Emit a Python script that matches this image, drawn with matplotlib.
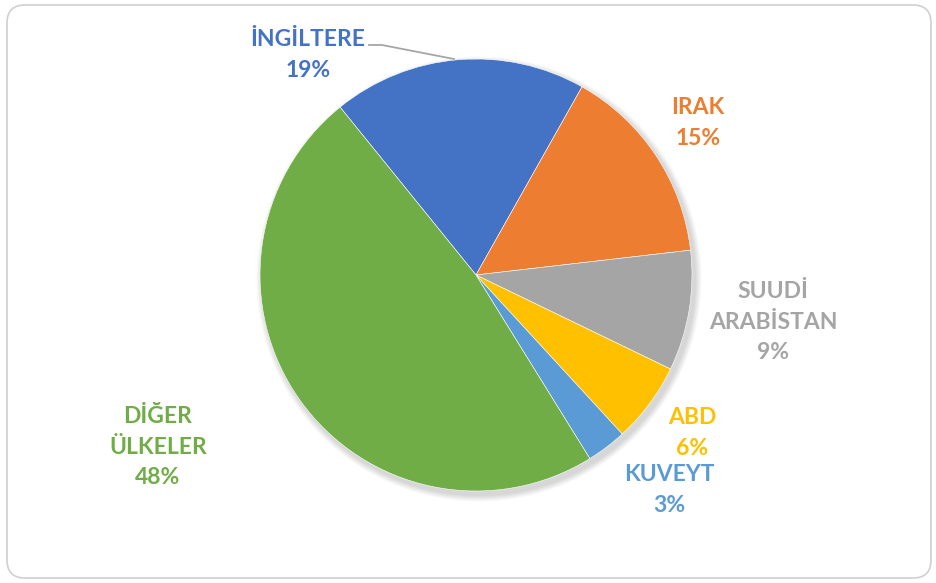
import matplotlib.pyplot as plt
from matplotlib.patches import FancyBboxPatch, Circle

# data
countries = ['İNGİLTERE', 'IRAK', 'SUUDİ\nARABİSTAN', 'ABD', 'KUVEYT', 'DİĞER\nÜLKELER']
shares = [19, 15, 9, 6, 3, 48]
colors = ['#4472C4', '#ED7D31', '#A5A5A5', '#FFC000', '#5B9BD5', '#70AD47']

W, H = 937, 583
fig = plt.figure(figsize=(W / 100, H / 100), dpi=100)
ax = fig.add_axes([0, 0, 1, 1])

# chart frame
frame = FancyBboxPatch((7, 5), 924, 573, boxstyle='round,pad=0,rounding_size=18',
                       fc='white', ec='#D0D0D0', lw=1.2, zorder=0)
ax.add_patch(frame)

cx, cy, r = 476, H - 275, 216

# soft shadow under the pie
for i in range(8):
    ax.add_patch(Circle((cx + 3, cy - 4), r + 1 + i * 0.8, fc='black',
                        alpha=0.018, lw=0, zorder=1))

wedges, _ = ax.pie(shares, colors=colors, startangle=129, counterclock=False,
                   center=(cx, cy), radius=r, frame=True,
                   wedgeprops=dict(lw=0.4, ec='white', zorder=2))

# label positions in pixels (x, y of label centre)
label_pos = [(308, 55), (698, 123), (773, 322), (692, 433), (669, 490), (158, 447)]
for name, val, col, (x, y) in zip(countries, shares, colors, label_pos):
    ax.text(x, H - y, f'{name}\n{val}%', color=col, ha='center', va='center',
            fontsize=16.5, fontweight='bold', family='Lato', linespacing=1.55,
            zorder=5)

# leader line for İngiltere
ax.plot([369, 382, 454], [H - 45, H - 45, H - 59], color='#A6A6A6', lw=1.3, zorder=4)

ax.set_xlim(0, W)
ax.set_ylim(0, H)
ax.axis('off')

fig.savefig('out.png', dpi=100)
